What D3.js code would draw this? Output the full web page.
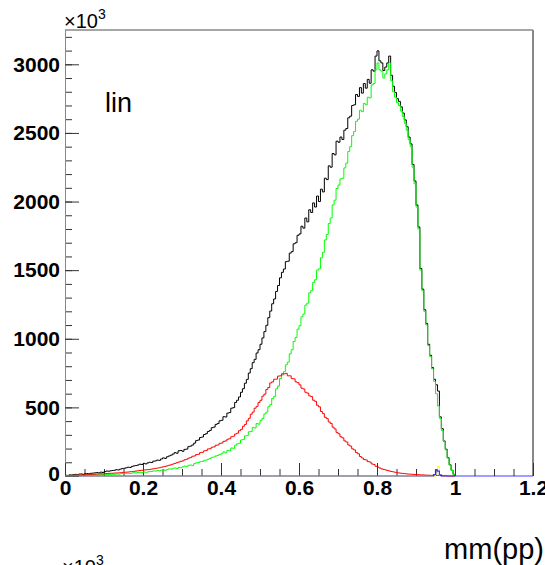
<!DOCTYPE html>
<html>

<head>
    <meta charset='utf-8' />
    <title>mm(pp) lin</title>
    <script src="https://cdn.jsdelivr.net/npm/d3@7"></script>
    <style>
        body {
            margin: 0;
            padding: 0;
            background: #fff;
        }

        svg {
            display: block;
        }

        .tick-label text {
            font-family: "Liberation Sans", Arial, sans-serif;
            font-weight: bold;
            font-size: 21px;
            fill: #000;
        }

        .plain {
            font-family: "Liberation Sans", Arial, sans-serif;
            fill: #000;
        }
    </style>
</head>

<body>
    <div id='chart'></div>
    <script>
        // bins of 0.005 starting at 0, axis 0..1.2 (240 bins)
        var binWidth = 0.005;
        var nBins = 240;

        var xTicks = [0, 0.2, 0.4, 0.6, 0.8, 1, 1.2];
        var yTicks = [0, 500, 1000, 1500, 2000, 2500, 3000];

        // total (black)
        var totalVals = [
            5, 4, 8, 7, 10, 12, 9, 14, 15, 12, 17, 18, 16, 20, 21, 23, 25, 22, 28, 26,
            32, 36, 35, 38, 40, 42, 46, 44, 50, 54, 56, 60, 64, 62, 70, 74, 76, 80, 86, 84,
            92, 88, 95, 100, 98, 108, 110, 116, 114, 124, 132, 128, 140, 146, 152, 160, 170, 166, 184, 186,
            180, 194, 196, 214, 218, 226, 240, 258, 262, 280, 284, 302, 308, 324, 332, 352, 356, 376, 382, 402,
            406, 432, 430, 458, 462, 494, 498, 536, 552, 576, 610, 636, 676, 704, 750, 782, 826, 850, 896, 920,
            960, 1006, 1052, 1098, 1154, 1202, 1255, 1290, 1345, 1388, 1444, 1484, 1508, 1562, 1565, 1624, 1635, 1692, 1700, 1754,
            1764, 1820, 1806, 1880, 1852, 1940, 1920, 1990, 1960, 2040, 2000, 2090, 2070, 2170, 2160, 2260, 2250, 2350, 2340, 2440,
            2432, 2470, 2452, 2520, 2532, 2610, 2622, 2700, 2705, 2780, 2766, 2830, 2790, 2860, 2826, 2890, 2862, 2960, 2950, 3060,
            3098, 3025, 3010, 2955, 2980, 3010, 3060, 2920, 2840, 2795, 2750, 2730, 2690, 2645, 2595, 2545, 2470, 2420, 2270, 2150,
            1975, 1815, 1512, 1362, 1212, 1112, 960, 880, 790, 705, 665, 619, 431, 345, 255, 195, 133, 82, 42, 12
        ];

        // green
        var greenVals = [
            1, 2, 3, 2, 4, 5, 4, 6, 5, 4, 7, 6, 6, 8, 7, 9, 8, 7, 10, 9,
            9, 12, 11, 10, 13, 12, 15, 13, 16, 18, 16, 19, 20, 18, 21, 24, 22, 25, 27, 24,
            30, 27, 29, 34, 33, 37, 36, 40, 38, 43, 46, 41, 47, 52, 50, 56, 58, 54, 63, 60,
            66, 72, 70, 78, 80, 76, 90, 96, 98, 104, 106, 114, 116, 122, 128, 136, 138, 146, 150, 158,
            162, 176, 170, 186, 184, 204, 202, 224, 234, 238, 262, 266, 292, 294, 322, 324, 354, 350, 382, 378,
            405, 420, 452, 465, 505, 520, 565, 580, 635, 655, 710, 735, 760, 810, 830, 890, 920, 980, 1010, 1070,
            1095, 1160, 1180, 1245, 1260, 1335, 1350, 1410, 1430, 1500, 1510, 1590, 1630, 1720, 1760, 1840, 1880, 1975, 2010, 2095,
            2120, 2165, 2170, 2245, 2280, 2365, 2400, 2480, 2510, 2585, 2600, 2665, 2655, 2715, 2705, 2760, 2755, 2850, 2860, 2960,
            3010, 2960, 2950, 2900, 2930, 2960, 3010, 2880, 2800, 2760, 2720, 2700, 2660, 2620, 2570, 2520, 2450, 2400, 2250, 2130,
            1960, 1800, 1500, 1350, 1200, 1100, 950, 870, 780, 690, 600, 510, 420, 330, 250, 190, 130, 80, 40, 10
        ];

        // red
        var redVals = [
            2, 3, 4, 4, 5, 6, 6, 7, 8, 7, 9, 10, 11, 10, 12, 13, 14, 15, 16, 15,
            17, 18, 19, 20, 20, 22, 22, 23, 24, 26, 27, 28, 29, 31, 32, 34, 36, 38, 40, 42,
            44, 45, 46, 48, 50, 53, 55, 58, 60, 64, 67, 70, 74, 78, 82, 87, 92, 97, 102, 107,
            110, 118, 122, 130, 134, 144, 146, 156, 158, 170, 172, 183, 186, 197, 199, 210, 212, 224, 226, 238,
            240, 252, 256, 268, 272, 286, 290, 306, 312, 330, 340, 362, 376, 402, 420, 450, 466, 494, 508, 536,
            552, 582, 596, 630, 645, 678, 686, 705, 706, 728, 730, 745, 744, 748, 730, 730, 710, 708, 686, 680,
            664, 640, 634, 610, 604, 584, 579, 552, 544, 515, 504, 470, 455, 428, 418, 394, 383, 356, 343, 318,
            308, 286, 278, 256, 248, 226, 218, 198, 190, 171, 162, 142, 132, 120, 117, 105, 102, 88, 84, 71,
            65, 58, 52, 48, 44, 40, 36, 33, 30, 27, 24, 22, 20, 18, 17, 15, 14, 13, 12, 11,
            10, 9, 8, 8, 7, 6, 6, 5, 5, 5, 5, 4, 3, 2, 1, 1, 0, 0, 0, 0
        ];

        // small contributions near 0.95
        var blueStart = 0.945;
        var blueVals = [10, 45, 35, 8];
        var yellowStart = 0.95;
        var yellowVals = [15, 70];

        var width = 545, height = 565;
        var x = d3.scaleLinear().domain([0, 1.2]).range([65, 533]);
        var y = d3.scaleLinear().domain([0, 3250]).range([476, 30]);

        var svg = d3.select('#chart').append('svg')
            .attr('width', width)
            .attr('height', height);

        drawFrame();
        drawHists();
        drawLabels();

        function drawFrame() {
            // top and right border
            svg.append('line').attr('x1', 65).attr('x2', 533).attr('y1', 30).attr('y2', 30)
                .attr('stroke', '#888').attr('stroke-width', 1.5);
            svg.append('line').attr('x1', 533).attr('x2', 533).attr('y1', 30).attr('y2', 476)
                .attr('stroke', '#888').attr('stroke-width', 2);

            // minor ticks
            svg.append('g').attr('transform', 'translate(65,0)')
                .call(d3.axisLeft(y).tickValues(d3.range(0, 3201, 100)).tickSize(-7).tickFormat(''))
                .call(function (g) { g.select('.domain').remove(); })
                .selectAll('line').attr('stroke', '#333');
            svg.append('g').attr('transform', 'translate(0,476)')
                .call(d3.axisBottom(x).tickValues(d3.range(0, 1.2001, 0.05)).tickSize(-7).tickFormat(''))
                .call(function (g) { g.select('.domain').remove(); })
                .selectAll('line').attr('stroke', '#333');

            // major ticks + labels
            var ya = svg.append('g').attr('class', 'tick-label').attr('transform', 'translate(65,0)')
                .call(d3.axisLeft(y).tickValues(yTicks).tickSize(-14).tickSizeOuter(0).tickPadding(5)
                    .tickFormat(d3.format('d')));
            ya.select('.domain').attr('stroke', '#888').attr('d', 'M0.5,476V30');
            ya.selectAll('line').attr('stroke', '#333');
            ya.selectAll('.tick text').filter(function (d) { return d === 0; }).attr('dy', '0.2em');

            var xa = svg.append('g').attr('class', 'tick-label').attr('transform', 'translate(0,476)')
                .call(d3.axisBottom(x).tickValues(xTicks).tickSize(-13).tickSizeOuter(0).tickPadding(4)
                    .tickFormat(function (d) { return String(d); }));
            xa.select('.domain').remove();
            xa.selectAll('line').attr('stroke', '#333');
        }

        function drawHists() {
            var line = d3.line()
                .x(function (d) { return x(d[0]); })
                .y(function (d) { return y(d[1]); })
                .curve(d3.curveStepAfter);

            // step outline of a series; stops on the baseline after its last filled bin
            function steps(start, vals) {
                var off = Math.round(start / binWidth);
                var pts = [];
                if (off > 0) pts.push([0, 0]);
                vals.forEach(function (v, i) { pts.push([(off + i) * binWidth, v]); });
                pts.push([(off + vals.length) * binWidth, 0]);
                return pts;
            }

            var series = [
                { start: 0, vals: totalVals, color: '#000000' },
                { start: 0, vals: greenVals, color: '#00ff00' },
                { start: 0, vals: redVals, color: '#ff0000' },
                { start: yellowStart, vals: yellowVals, color: '#ffff00' }
            ];

            var g = svg.append('g');
            g.selectAll('path')
                .data(series)
                .enter()
                .append('path')
                .attr('d', function (d) { return line(steps(d.start, d.vals)); })
                .attr('fill', 'none')
                .attr('stroke', function (d) { return d.color; })
                .attr('stroke-width', 1);

            // blue one runs along the whole axis
            var bluePts = steps(blueStart, blueVals);
            bluePts.push([nBins * binWidth, 0]);
            g.append('path')
                .attr('d', line(bluePts))
                .attr('fill', 'none')
                .attr('stroke', '#0000ff')
                .attr('stroke-opacity', 0.75)
                .attr('stroke-width', 1.2);
        }

        function drawLabels() {
            var t = svg.append('text').attr('class', 'plain').attr('x', 64).attr('y', 28).attr('font-size', 20);
            t.append('tspan').text('\u00d710');
            t.append('tspan').attr('font-size', 14).attr('dy', -9).text('3');

            svg.append('text').attr('class', 'plain').attr('x', 105).attr('y', 112)
                .attr('font-size', 27).text('lin');

            svg.append('text').attr('class', 'plain').attr('x', 544).attr('y', 559)
                .attr('text-anchor', 'end').attr('font-size', 29).text('mm(pp)');

            // label of the next pad peeking in at the bottom
            var b = svg.append('text').attr('class', 'plain').attr('x', 62).attr('y', 574).attr('font-size', 20);
            b.append('tspan').text('\u00d710');
            b.append('tspan').attr('font-size', 14).attr('dy', -9).text('3');
        }
    </script>

</body>

</html>
